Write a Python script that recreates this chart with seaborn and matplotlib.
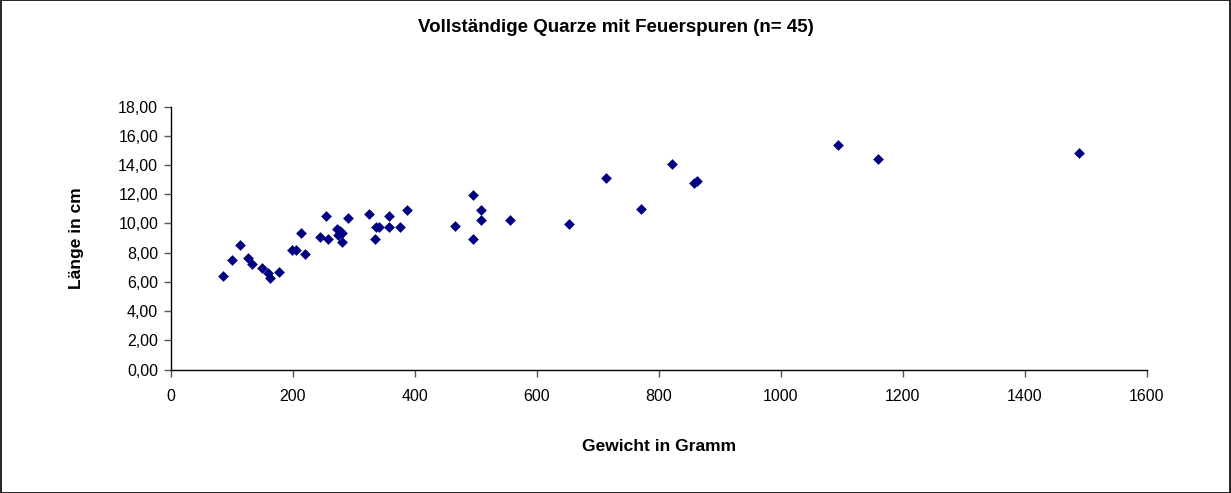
import matplotlib
matplotlib.use("Agg")
import matplotlib.pyplot as plt
from matplotlib.patches import Rectangle
from matplotlib.ticker import FuncFormatter, MultipleLocator
import pandas as pd
import seaborn as sns

# Weight (g) and length (cm) of complete quartz pieces with fire traces
gewicht = [86, 100, 113, 127, 133, 150, 159, 163, 177, 198, 205, 214, 220,
           244, 255, 258, 272, 274, 281, 281, 291, 325, 336, 342, 335, 358,
           358, 375, 388, 466, 496, 509, 509, 496, 556, 653, 714, 771, 822,
           858, 862, 1093, 1160, 1489, 278]
laenge = [6.42, 7.48, 8.53, 7.66, 7.21, 6.97, 6.59, 6.25, 6.70, 8.16, 8.16,
          9.33, 7.89, 9.05, 10.51, 8.92, 9.60, 9.21, 9.33, 8.75, 10.36, 10.65,
          9.74, 9.74, 8.92, 10.51, 9.74, 9.74, 10.89, 9.83, 11.93, 10.90,
          10.24, 8.92, 10.24, 9.97, 13.12, 11.01, 14.05, 12.75, 12.91, 15.36,
          14.42, 14.81, 9.50]

titel = "Vollständige Quarze mit Feuerspuren (n= 45)"
x_titel = "Gewicht in Gramm"
y_titel = "Länge in cm"
x_ticks = [0, 200, 400, 600, 800, 1000, 1200, 1400, 1600]

sns.set_theme(style="ticks")
plt.rcParams["font.family"] = ["Liberation Sans", "DejaVu Sans"]
plt.rcParams["text.color"] = "black"
plt.rcParams["axes.labelcolor"] = "black"

df = pd.DataFrame({"Gewicht": gewicht, "Laenge": laenge})

fig = plt.figure(figsize=(12.31, 4.93), dpi=100)
fig.patch.set_facecolor("white")
ax = fig.add_axes([0.1387, 0.2505, 0.7929, 0.5331])

sns.scatterplot(data=df, x="Gewicht", y="Laenge", marker="D", s=30,
                color="#000080", linewidth=0, ax=ax, zorder=3)

ax.set_xlim(0, 1600)
ax.set_ylim(0, 18)
ax.set_xticks(x_ticks)
ax.yaxis.set_major_locator(MultipleLocator(2))
ax.yaxis.set_major_formatter(FuncFormatter(lambda v, p: f"{v:.2f}".replace(".", ",")))

for side in ("top", "right"):
    ax.spines[side].set_visible(False)
for side in ("left", "bottom"):
    ax.spines[side].set_color("black")
    ax.spines[side].set_linewidth(1.0)

ax.tick_params(axis="both", direction="out", length=5, width=1, color="#555555",
               labelsize=11.5, labelcolor="black", pad=4)
ax.tick_params(axis="x", pad=9)

ax.set_xlabel(x_titel, fontsize=12.5, fontweight="bold", labelpad=25)
ax.set_ylabel(y_titel, fontsize=12.5, fontweight="bold", labelpad=25)

fig.text(0.5, 1 - 28 / 493, titel, ha="center", va="center",
         fontsize=13.5, fontweight="bold")

fig.patches.append(Rectangle((0.0008, 0.001), 0.9984, 0.998, transform=fig.transFigure,
                             fill=False, edgecolor="black", linewidth=1.2))

fig.savefig("out.png", dpi=100, facecolor="white")
